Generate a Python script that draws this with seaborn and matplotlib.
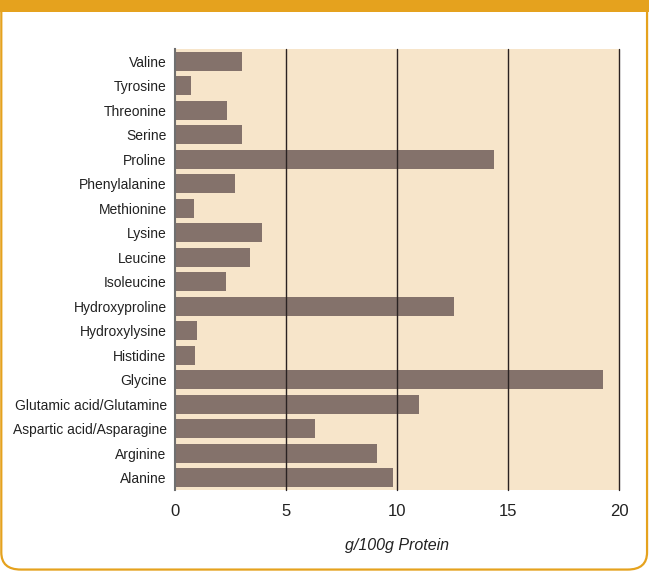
import matplotlib
matplotlib.use("Agg")
import matplotlib.pyplot as plt
from matplotlib.patches import FancyBboxPatch, Rectangle
import seaborn as sns
import pandas as pd

amino_acids = [
    "Valine", "Tyrosine", "Threonine", "Serine", "Proline", "Phenylalanine",
    "Methionine", "Lysine", "Leucine", "Isoleucine", "Hydroxyproline",
    "Hydroxylysine", "Histidine", "Glycine", "Glutamic acid/Glutamine",
    "Aspartic acid/Asparagine", "Arginine", "Alanine",
]
grams_per_100g = [
    3.0, 0.72, 2.35, 3.0, 14.35, 2.7,
    0.85, 3.93, 3.4, 2.3, 12.55,
    1.0, 0.9, 19.3, 11.0,
    6.3, 9.12, 9.84,
]
x_ticks = [0, 5, 10, 15, 20]

ORANGE = "#E5A21E"
BEIGE = "#F7E5CA"
BAR = "#84726B"

sns.set_theme(style="white")
plt.rcParams["font.family"] = ["Liberation Sans Narrow", "Liberation Sans", "DejaVu Sans"]

df = pd.DataFrame({"amino": amino_acids, "value": grams_per_100g})

fig = plt.figure(figsize=(6.49, 5.73), dpi=100)
fig.patch.set_facecolor("white")

# rounded frame with orange border and top band, kept behind the axes
frame = FancyBboxPatch((0.002, 0.006), 0.995, 1.2, boxstyle="round,pad=0,rounding_size=0.03",
                       transform=fig.transFigure, facecolor="none", edgecolor=ORANGE,
                       linewidth=1.6, zorder=-10)
fig.patches.append(frame)
band = Rectangle((0, 1 - 12 / 573), 1, 12 / 573, transform=fig.transFigure,
                 facecolor=ORANGE, edgecolor="none", zorder=-9)
fig.patches.append(band)

ax = fig.add_axes([175 / 649, 1 - 490 / 573, (619 - 175) / 649, (490 - 49) / 573])
ax.set_facecolor(BEIGE)

sns.barplot(data=df, x="value", y="amino", order=amino_acids, color=BAR,
            saturation=1, width=0.78, linewidth=0, edgecolor="none", ax=ax)

ax.set_xlim(0, 20)
ax.set_ylim(len(amino_acids) - 0.5, -0.5)
ax.set_xticks(x_ticks)
ax.set_xticklabels([str(t) for t in x_ticks], fontsize=12, color="#222222")
ax.tick_params(axis="x", length=0, pad=10)
ax.tick_params(axis="y", length=0, pad=6, labelsize=10, labelcolor="#222222")

ax.grid(False)
for t in x_ticks[1:]:
    ax.axvline(t, color="#2a2222", linewidth=1.0, zorder=3, clip_on=False)

for side in ("top", "bottom", "right"):
    ax.spines[side].set_visible(False)
ax.spines["left"].set_color("#6f6f6f")
ax.spines["left"].set_linewidth(1.5)

ax.set_ylabel("")
ax.set_xlabel("g/100g Protein", fontsize=11.5, fontstyle="italic", color="#222222", labelpad=14)

fig.savefig("out.png", dpi=100, facecolor=fig.get_facecolor())
